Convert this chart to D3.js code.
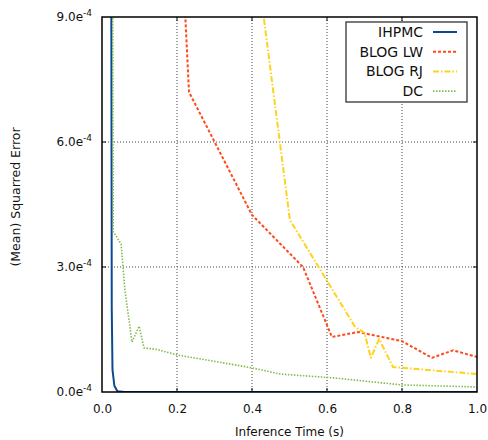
<!DOCTYPE html>
<html><head><meta charset="utf-8">
<script src="https://cdn.jsdelivr.net/npm/d3@7"></script>
<style>
html,body{margin:0;padding:0;background:#fff;}
text{font-family:"DejaVu Sans",sans-serif;fill:#111;}
</style></head>
<body>
<svg id="chart" width="488" height="440"></svg>
<script>
// ---- data ----
const seriesNames = ["IHPMC", "BLOG LW", "BLOG RJ", "DC"];
const ihpmcTime = [0.024, 0.026, 0.028, 0.033, 0.041, 0.06, 1.0];
const ihpmcErr  = [1.5e-3, 2.0e-4, 0.53e-4, 0.15e-4, 0.02e-4, 0, 0];
const lwTime = [0.214, 0.232, 0.4, 0.536, 0.613, 0.683, 0.8, 0.88, 0.936, 1.0];
const lwErr  = [1.05e-3, 7.2e-4, 4.25e-4, 3.0e-4, 1.32e-4, 1.44e-4, 1.22e-4, 0.82e-4, 1.0e-4, 0.84e-4];
const rjTime = [0.424, 0.501, 0.675, 0.70, 0.717, 0.739, 0.776, 1.0];
const rjErr  = [9.5e-4, 4.13e-4, 1.56e-4, 1.42e-4, 0.82e-4, 1.27e-4, 0.6e-4, 0.43e-4];
const dcTime = [0.028, 0.030, 0.051, 0.056, 0.061, 0.080, 0.099, 0.112, 0.147, 0.2, 0.4, 0.475, 0.616, 0.8, 1.0];
const dcErr  = [1.2e-3, 3.85e-4, 3.55e-4, 3.0e-4, 2.45e-4, 1.2e-4, 1.58e-4, 1.06e-4, 1.02e-4, 0.89e-4, 0.58e-4, 0.43e-4, 0.34e-4, 0.17e-4, 0.12e-4];
const xTicks = [0, 0.2, 0.4, 0.6, 0.8, 1.0];
const xTickLabels = ["0.0", "0.2", "0.4", "0.6", "0.8", "1.0"];
const yTicks = [0, 3e-4, 6e-4, 9e-4];
const yTickLabels = ["0.0e", "3.0e", "6.0e", "9.0e"];
const yTickExp = "-4";

// ---- layout ----
const svg = d3.select("#chart");
const L = 102, R = 477, T = 17, B = 392;
const x = d3.scaleLinear().domain([0, 1]).range([L, R]);
const y = d3.scaleLinear().domain([0, 9e-4]).range([B, T]);

const colors = ["#0b4a8f", "#ff4a1c", "#ffd21c", "#80bc4c"];
const dashes = [null, "3,2", "6,2,1.5,2", "1.5,1.5"];
const widths = [2, 2, 2, 1.6];

svg.append("defs").append("clipPath").attr("id", "clip")
  .append("rect").attr("x", L).attr("y", T).attr("width", R - L).attr("height", B - T);

// grid
const grid = svg.append("g");
grid.selectAll("line.gx").data(xTicks.slice(1, -1)).enter().append("line")
  .attr("x1", d => x(d)).attr("x2", d => x(d)).attr("y1", T).attr("y2", B)
  .attr("stroke", "#444").attr("stroke-width", 1).attr("stroke-dasharray", "1,2");
grid.selectAll("line.gy").data(yTicks.slice(1, -1)).enter().append("line")
  .attr("y1", d => y(d)).attr("y2", d => y(d)).attr("x1", L).attr("x2", R)
  .attr("stroke", "#444").attr("stroke-width", 1).attr("stroke-dasharray", "1,2");

// axes via d3
const xAxis = d3.axisBottom(x).tickValues(xTicks).tickSize(0).tickPadding(12)
  .tickFormat((d, i) => xTickLabels[i]);
const gx = svg.append("g").attr("transform", `translate(0,${B})`).call(xAxis);
gx.select(".domain").remove();
gx.selectAll("text").attr("font-size", 12).attr("font-family", "DejaVu Sans").attr("fill", "#111");

const yAxis = d3.axisLeft(y).tickValues(yTicks).tickSize(0).tickPadding(10).tickFormat(() => "");
const gy = svg.append("g").attr("transform", `translate(${L},0)`).call(yAxis);
gy.select(".domain").remove();
gy.selectAll(".tick text").each(function(d, i) {
  const t = d3.select(this).attr("font-size", 12).attr("fill", "#111").attr("font-family", "DejaVu Sans");
  t.append("tspan").text(yTickLabels[i]);
  t.append("tspan").attr("font-size", 9).attr("dy", -5).text(yTickExp);
});

// inward tick marks on all four sides
const tk = svg.append("g").attr("stroke", "#000").attr("stroke-width", 1);
xTicks.slice(1, -1).forEach(v => {
  tk.append("line").attr("x1", x(v)).attr("x2", x(v)).attr("y1", B).attr("y2", B - 4);
  tk.append("line").attr("x1", x(v)).attr("x2", x(v)).attr("y1", T).attr("y2", T + 4);
});
yTicks.slice(1, -1).forEach(v => {
  tk.append("line").attr("y1", y(v)).attr("y2", y(v)).attr("x1", L).attr("x2", L + 4);
  tk.append("line").attr("y1", y(v)).attr("y2", y(v)).attr("x1", R).attr("x2", R - 4);
});

// lines
const allSeries = [
  [ihpmcTime, ihpmcErr], [lwTime, lwErr], [rjTime, rjErr], [dcTime, dcErr]
];
const line = d3.line().x(d => x(d[0])).y(d => y(d[1]));
const plot = svg.append("g").attr("clip-path", "url(#clip)");
[1, 2, 0, 3].forEach(k => {
  const pts = allSeries[k][0].map((t, i) => [t, allSeries[k][1][i]]);
  plot.append("path").datum(pts).attr("d", line)
    .attr("fill", "none").attr("stroke", colors[k]).attr("stroke-width", widths[k])
    .attr("stroke-dasharray", dashes[k]).attr("stroke-linejoin", "round");
});

// frame
svg.append("rect").attr("x", L).attr("y", T).attr("width", R - L).attr("height", B - T)
  .attr("fill", "none").attr("stroke", "#000").attr("stroke-width", 1.5);

// axis titles
svg.append("text").attr("x", (L + R) / 2).attr("y", 436).attr("text-anchor", "middle")
  .attr("font-size", 12).text("Inference Time (s)");
svg.append("text").attr("transform", "translate(20,197) rotate(-90)").attr("text-anchor", "middle")
  .attr("font-size", 12.5).text("(Mean) Squarred Error");

// legend
const lg = svg.append("g");
lg.append("rect").attr("x", 346).attr("y", 22).attr("width", 121).attr("height", 80)
  .attr("fill", "#fff").attr("stroke", "#333").attr("stroke-width", 1.3);
seriesNames.forEach((name, i) => {
  const yy = 32 + i * 19.7;
  lg.append("text").attr("x", 423).attr("y", yy + 5).attr("text-anchor", "end")
    .attr("font-size", 14).text(name);
  lg.append("line").attr("x1", 433).attr("x2", 457).attr("y1", yy).attr("y2", yy)
    .attr("stroke", colors[i]).attr("stroke-width", widths[i]).attr("stroke-dasharray", dashes[i]);
});
</script>
</body></html>
